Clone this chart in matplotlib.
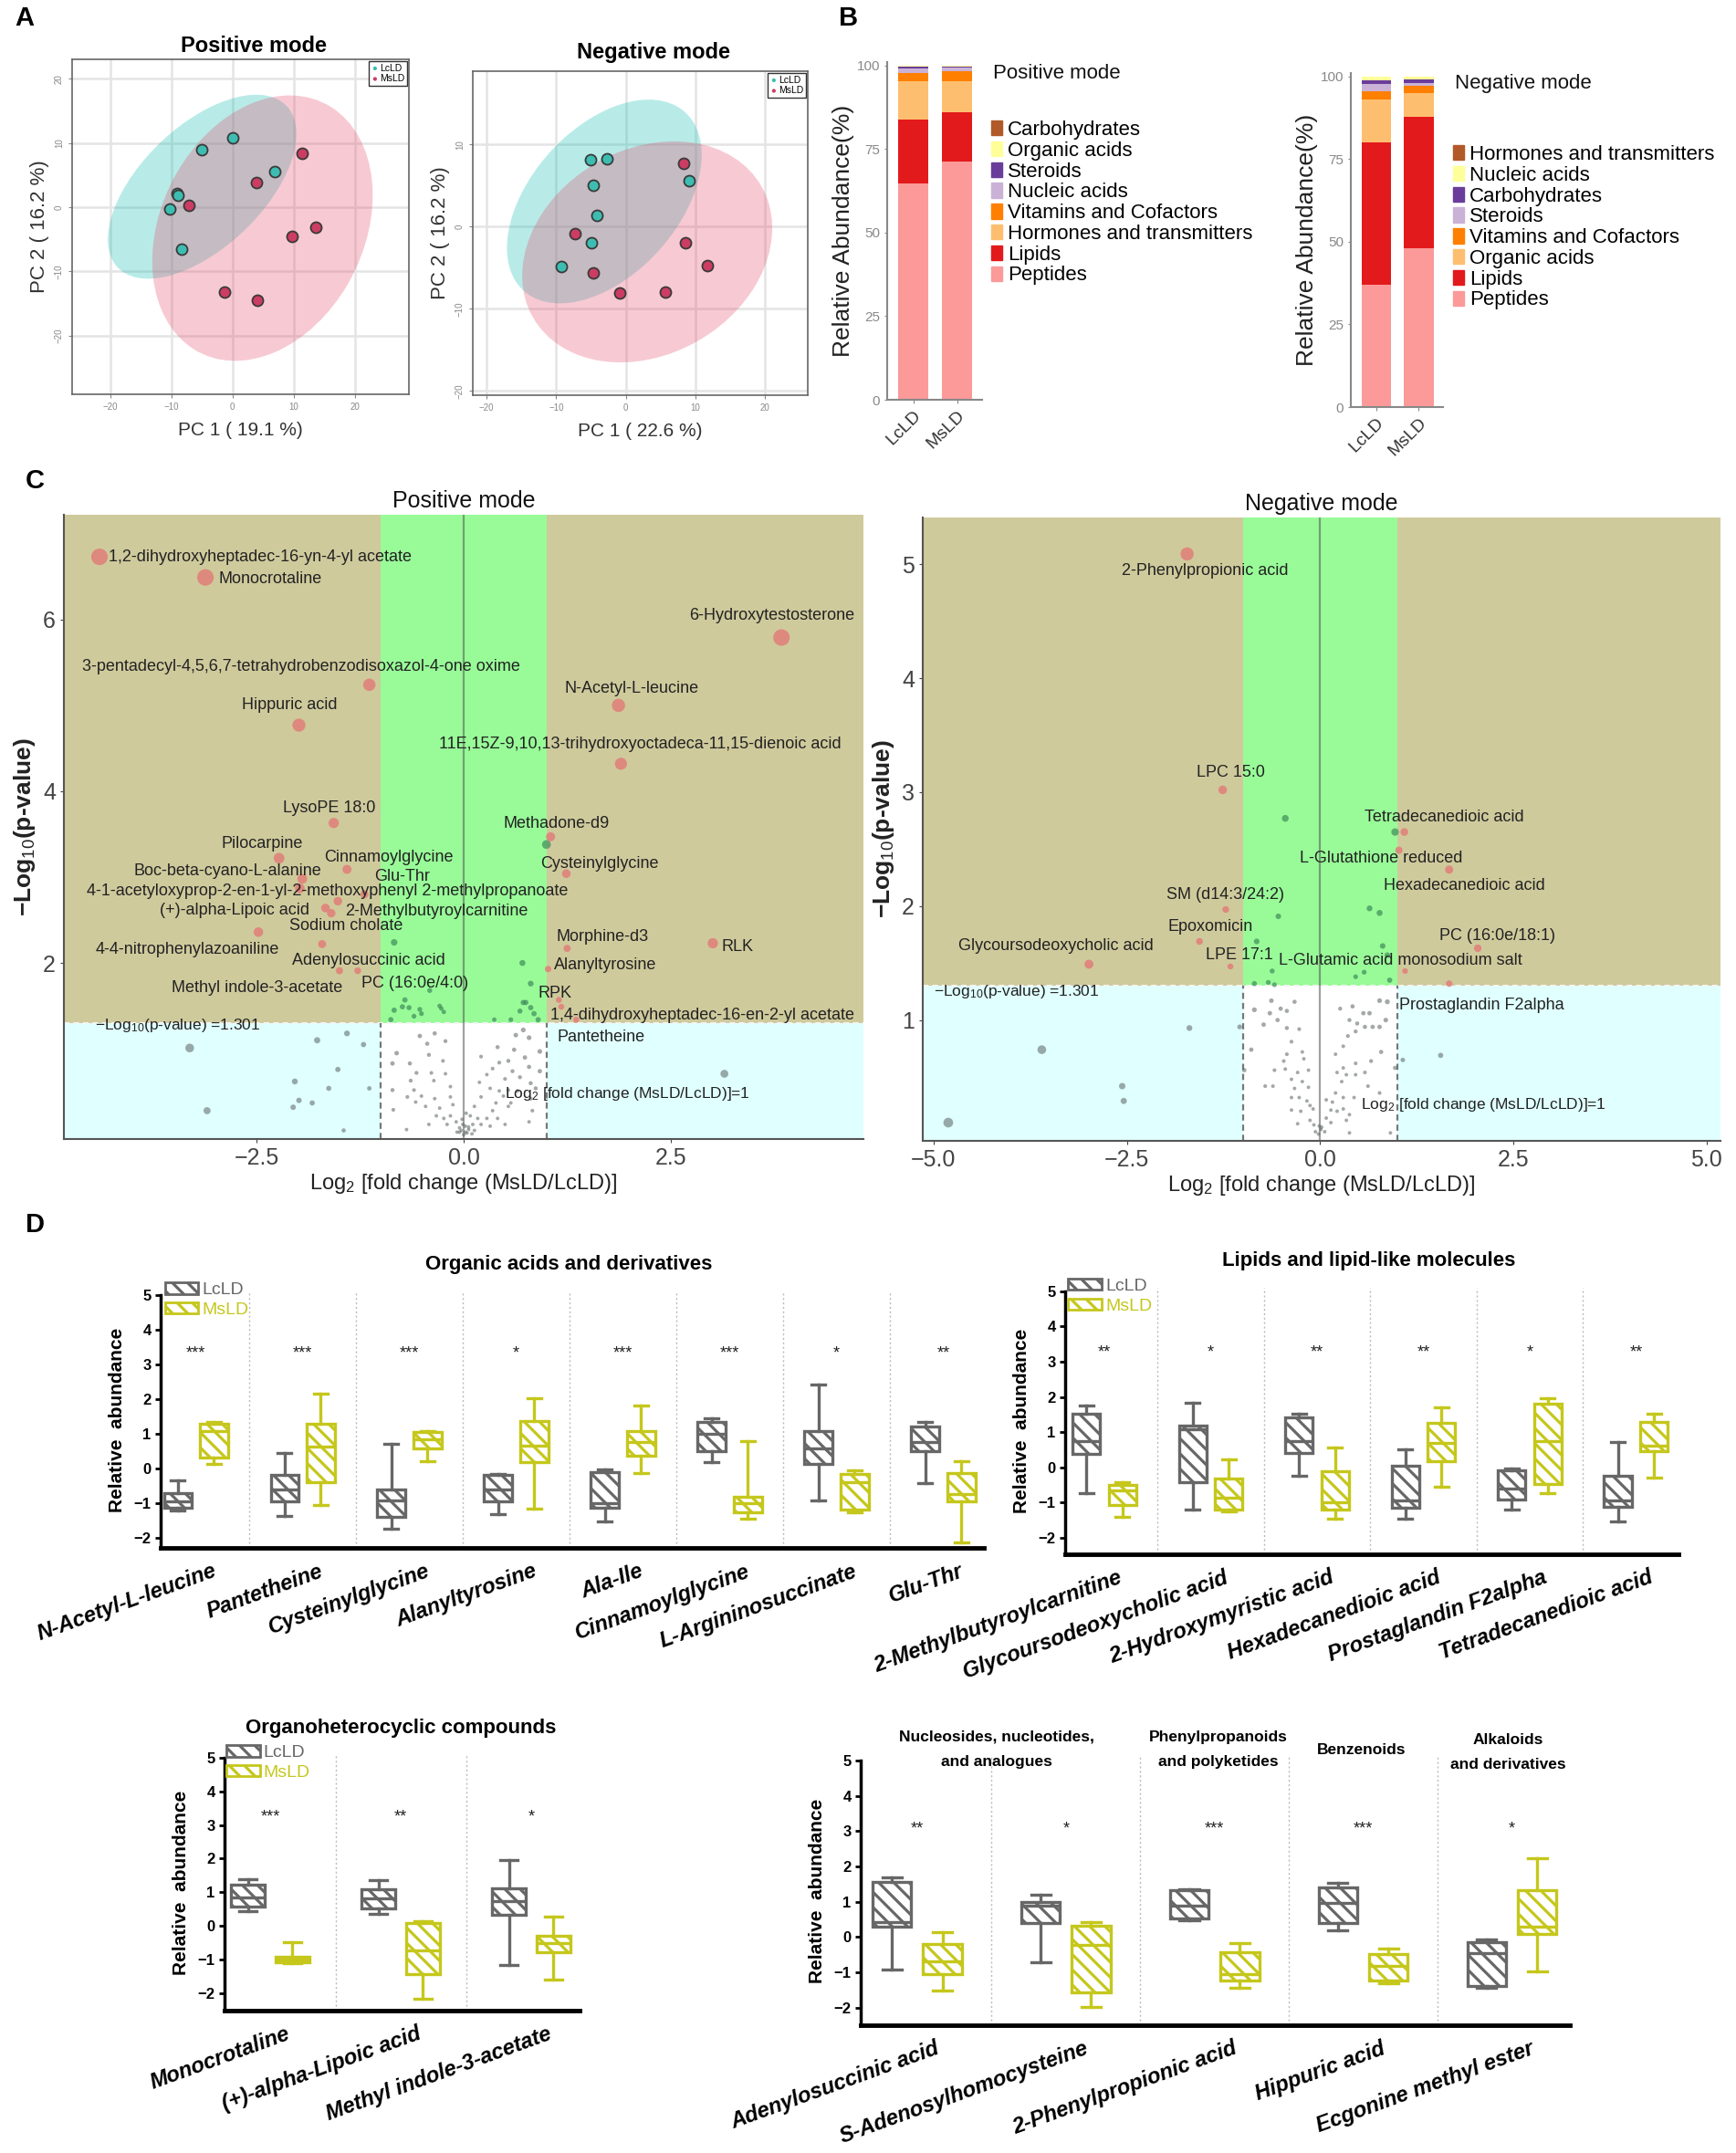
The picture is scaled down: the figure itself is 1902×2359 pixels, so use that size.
import numpy as np
import matplotlib
matplotlib.use("Agg")
import matplotlib.pyplot as plt
from matplotlib.patches import Ellipse, Patch, Rectangle

plt.rcParams["font.family"] = ["Liberation Sans", "DejaVu Sans"]
plt.rcParams["mathtext.fontset"] = "custom"
plt.rcParams["mathtext.rm"] = "Liberation Sans"
plt.rcParams["mathtext.it"] = "Liberation Sans:italic"
plt.rcParams["mathtext.bf"] = "Liberation Sans:bold"
plt.rcParams["hatch.linewidth"] = 2.3

# ---------------- A: PCA scores (PC1, PC2)
pca_pos_lc = [(0.0, 10.8), (-5.0, 8.9), (6.9, 5.5), (-9.1, 2.1), (-9.0, 1.8), (-10.3, -0.3), (-8.4, -6.5)]
pca_pos_ms = [(11.4, 8.4), (3.9, 3.9), (-7.1, 0.3), (13.7, -3.1), (9.7, -4.6), (-1.3, -13.2), (4.0, -14.5)]
pca_neg_lc = [(-5.1, 8.1), (-2.7, 8.2), (9.1, 5.6), (-4.6, 5.0), (-4.1, 1.4), (-4.9, -2.0), (-9.2, -4.9)]
pca_neg_ms = [(8.4, 7.7), (-7.3, -0.8), (8.6, -2.0), (11.8, -4.7), (-4.6, -5.6), (-0.9, -8.1), (5.7, -8.0)]

# ---------------- B: class composition (%), bottom -> top
pos_classes = ["Peptides", "Lipids", "Hormones and transmitters", "Vitamins and Cofactors",
               "Nucleic acids", "Steroids", "Organic acids", "Carbohydrates"]
pos_lcld = [64.6, 19.1, 11.6, 2.4, 1.3, 0.6, 0.2, 0.2]
pos_msld = [71.3, 14.6, 9.4, 3.1, 1.0, 0.3, 0.2, 0.1]
neg_classes = ["Peptides", "Lipids", "Organic acids", "Vitamins and Cofactors",
               "Steroids", "Carbohydrates", "Nucleic acids", "Hormones and transmitters"]
neg_lcld = [36.9, 43.2, 12.9, 2.4, 2.2, 1.1, 1.1, 0.2]
neg_msld = [48.1, 39.7, 7.2, 2.0, 0.9, 1.2, 0.8, 0.1]
stack_colors = ["#fb9a99", "#e31a1c", "#fdbf6f", "#ff7f00", "#cab2d6", "#6a3d9a", "#ffff99", "#b15928"]

# ---------------- C: volcano, labelled metabolites (log2 FC, -log10 p)
vp_names = ["1,2-dihydroxyheptadec-16-yn-4-yl acetate", "Monocrotaline", "6-Hydroxytestosterone",
            "3-pentadecyl-4,5,6,7-tetrahydrobenzodisoxazol-4-one oxime", "N-Acetyl-L-leucine",
            "Hippuric acid", "11E,15Z-9,10,13-trihydroxyoctadeca-11,15-dienoic acid", "LysoPE 18:0",
            "Methadone-d9", "Pilocarpine", "Cinnamoylglycine", "Boc-beta-cyano-L-alanine", "Glu-Thr",
            "4-1-acetyloxyprop-2-en-1-yl-2-methoxyphenyl 2-methylpropanoate", "(+)-alpha-Lipoic acid",
            "2-Methylbutyroylcarnitine", "Sodium cholate", "4-4-nitrophenylazoaniline",
            "Adenylosuccinic acid", "Methyl indole-3-acetate", "PC (16:0e/4:0)", "Cysteinylglycine",
            "Morphine-d3", "RLK", "Alanyltyrosine", "RPK", "1,4-dihydroxyheptadec-16-en-2-yl acetate",
            "Pantetheine"]
vp_fc = [-4.40, -3.12, 3.84, -1.14, 1.87, -1.99, 1.90, -1.57, 1.05, -2.23, -1.41, -1.95, -1.20,
         -1.52, -1.67, -1.60, -1.98, -2.48, -1.71, -1.50, -1.28, 1.24, 1.25, 3.01, 1.02, 1.15, 1.36, 1.18]
vp_p = [6.73, 6.49, 5.79, 5.24, 5.00, 4.77, 4.32, 3.63, 3.47, 3.22, 3.09, 2.98, 2.80,
        2.72, 2.64, 2.58, 2.87, 2.36, 2.22, 1.91, 1.91, 3.04, 2.17, 2.23, 1.93, 1.57, 1.34, 1.49]
# other (unlabelled) features, positive mode
vp_other_fc = [1.00, -0.84, 0.71, -0.41, 0.81, 0.75, -0.71, -0.66, -0.84, -0.53, -0.51, -0.29, -0.24,
               -0.88, -0.60, 0.72, 0.81, 0.85, 0.57, 0.90, 0.68, -0.74, -0.27, 0.37,
               -3.31, -1.77, -1.41, -1.21, -1.52, -2.04, -1.63, -1.14, -1.99, -1.83, -2.06, -3.10, 3.15, -1.45,
               -0.53, -0.44, -0.35, -0.22, -0.81, -0.65, -0.42, -0.25, -0.86, -0.57, -0.39, -0.22, -0.64,
               -0.36, -0.60, -0.16, -0.86, -0.68, -0.51, -0.35, -0.16, -0.85, -0.58, -0.29, -0.13, -0.33,
               -0.16, -0.42, -0.20, -0.09, -0.69, -0.05, -0.24, -0.46,
               0.41, 0.61, 0.72, 0.79, 0.63, 0.74, 0.92, 0.43, 0.54, 0.21, 0.35, 0.59, 0.68, 0.79, 0.92,
               0.28, 0.50, 0.81, 0.19, 0.32, 0.43, 0.54, 0.65, 0.87, 0.21, 0.39, 0.48, 0.57, 0.81, 0.13,
               0.35, 0.54, 0.83, 0.08, 0.17, 0.28, 0.41, 0.11, 0.21, 0.32, 0.06, 0.13, 0.02, -0.01, -0.05,
               0.02, 0.10, 0.50, 0.79, 0.00, -0.03, 0.04, -0.08, 0.06, -0.02, 0.03]
vp_other_p = [3.38, 2.24, 2.00, 1.68, 1.76, 1.54, 1.57, 1.48, 1.45, 1.46, 1.41, 1.50, 1.43,
              1.34, 1.38, 1.54, 1.48, 1.41, 1.34, 1.34, 1.44, 1.49, 1.47, 1.34,
              1.01, 1.10, 1.18, 1.05, 0.76, 0.62, 0.54, 0.54, 0.40, 0.37, 0.32, 0.28, 0.71, 0.05,
              1.15, 1.06, 1.18, 1.09, 0.95, 0.83, 0.93, 0.86, 0.83, 0.72, 0.72, 0.71, 0.63,
              0.63, 0.52, 0.56, 0.52, 0.44, 0.45, 0.42, 0.44, 0.29, 0.38, 0.31, 0.35, 0.22,
              0.22, 0.12, 0.12, 0.15, 0.06, 0.08, 0.19, 0.33,
              1.02, 0.99, 1.22, 1.13, 1.16, 0.90, 0.97, 0.84, 0.86, 0.91, 0.77, 0.74, 0.67, 0.79, 0.74,
              0.70, 0.65, 0.60, 0.61, 0.54, 0.51, 0.52, 0.51, 0.54, 0.44, 0.37, 0.45, 0.37, 0.42, 0.33,
              0.28, 0.33, 0.28, 0.22, 0.19, 0.19, 0.19, 0.12, 0.12, 0.10, 0.06, 0.05, 0.10, 0.12, 0.03,
              0.03, 0.01, 0.12, 0.15, 0.00, 0.05, 0.02, 0.03, 0.09, 0.18, 0.25]

vn_names = ["2-Phenylpropionic acid", "LPC 15:0", "Tetradecanedioic acid", "L-Glutathione reduced",
            "Hexadecanedioic acid", "SM (d14:3/24:2)", "Epoxomicin", "PC (16:0e/18:1)",
            "Glycoursodeoxycholic acid", "LPE 17:1", "L-Glutamic acid monosodium salt", "Prostaglandin F2alpha"]
vn_fc = [-1.72, -1.26, 1.09, 1.02, 1.67, -1.22, -1.56, 2.04, -2.99, -1.16, 1.10, 1.67]
vn_p = [5.09, 3.02, 2.65, 2.49, 2.32, 1.97, 1.69, 1.63, 1.49, 1.47, 1.43, 1.32]
vn_other_fc = [-0.45, 0.97, -0.54, 0.64, 0.77, -0.82, 0.81, 0.87, -0.62, 0.46, 0.57, -0.67, -0.59, 0.90, -0.85,
               -1.69, -3.60, -2.56, -2.54, -4.81, 1.56, 1.07,
               -0.63, -0.33, -0.85, -0.65, -0.51, -0.43, -0.55, -0.73, -0.43, -0.27, -1.04, -0.37, -0.89,
               -0.43, -0.23, -0.21, -0.47, -0.98, -0.59, -0.45, -0.29, -0.15, -0.37, -0.23, -0.71, -0.61,
               -0.33, -0.15, -0.37, -0.27, -0.17, -0.13, -0.37, -0.25, -0.09, -0.29, -0.13, -0.08, -0.06,
               -0.02, 0.26, 0.42, 0.56, 0.64, 0.38, 0.48, 0.58, 0.68, 0.77, 0.46, 0.36, 0.30, 0.20, 0.46,
               0.66, 0.58, 0.30, 0.22, 0.28, 0.34, 0.46, 0.79, 0.97, 0.62, 0.77, 0.20, 0.08, 0.16, 0.30,
               0.44, 0.14, 0.22, 0.30, 0.38, 0.08, 0.14, 0.34, 0.02, 0.06, 0.38, 0.91, 0.77, 0.87, 0.85,
               0.01, -0.01]
vn_other_p = [2.77, 2.65, 1.91, 1.98, 1.94, 1.69, 1.65, 1.57, 1.43, 1.38, 1.42, 1.33, 1.31, 1.35, 1.32,
              0.93, 0.74, 0.42, 0.29, 0.10, 0.69, 0.65,
              1.17, 1.16, 1.09, 1.06, 1.10, 1.08, 1.00, 0.96, 0.93, 0.92, 0.94, 0.81, 0.74,
              0.70, 0.72, 0.66, 0.64, 0.56, 0.56, 0.57, 0.54, 0.56, 0.48, 0.46, 0.42, 0.42,
              0.40, 0.41, 0.32, 0.32, 0.29, 0.25, 0.21, 0.20, 0.22, 0.09, 0.12, 0.08, 0.02,
              0.00, 1.10, 1.12, 1.06, 1.06, 1.00, 0.97, 0.94, 0.94, 0.94, 0.90, 0.86, 0.77, 0.70, 0.62,
              0.64, 0.54, 0.58, 0.54, 0.46, 0.52, 0.52, 0.72, 0.58, 0.42, 0.36, 0.36, 0.30, 0.28, 0.32,
              0.32, 0.21, 0.20, 0.22, 0.17, 0.14, 0.10, 0.12, 0.06, 0.02, 0.01, 0.01, 1.17, 1.16, 1.00,
              0.04, 0.07]

# ---------------- D: box statistics (whislo, q1, median, q3, whishi)
oa_names = ["N-Acetyl-L-leucine", "Pantetheine", "Cysteinylglycine", "Alanyltyrosine", "Ala-Ile",
            "Cinnamoylglycine", "L-Argininosuccinate", "Glu-Thr"]
oa_lc = [(-1.23, -1.15, -0.97, -0.73, -0.35), (-1.39, -0.97, -0.62, -0.20, 0.44), (-1.76, -1.41, -0.93, -0.62, 0.70),
         (-1.32, -0.97, -0.62, -0.20, -0.18), (-1.54, -1.15, -1.01, -0.11, -0.03), (0.18, 0.48, 1.00, 1.34, 1.43),
         (-0.94, 0.11, 0.57, 1.06, 2.41), (-0.44, 0.50, 0.75, 1.21, 1.34)]
oa_ms = [(0.11, 0.31, 1.06, 1.28, 1.34), (-1.07, -0.40, 0.62, 1.28, 2.14), (0.20, 0.57, 0.84, 1.04, 1.08),
         (-1.17, 0.18, 0.66, 1.37, 2.01), (-0.15, 0.35, 0.75, 1.08, 1.82), (-1.45, -1.26, -1.01, -0.82, 0.79),
         (-1.26, -1.19, -0.40, -0.18, -0.07), (-2.14, -0.97, -0.75, -0.15, 0.20)]
oa_sig = ["***", "***", "***", "*", "***", "***", "*", "**"]

lip_names = ["2-Methylbutyroylcarnitine", "Glycoursodeoxycholic acid", "2-Hydroxymyristic acid",
             "Hexadecanedioic acid", "Prostaglandin F2alpha", "Tetradecanedioic acid"]
lip_lc = [(-0.74, 0.39, 0.74, 1.52, 1.75), (-1.19, -0.42, 1.08, 1.19, 1.84), (-0.24, 0.42, 0.74, 1.43, 1.52),
          (-1.45, -1.14, -0.95, 0.04, 0.50), (-1.19, -0.91, -0.61, -0.09, -0.04), (-1.54, -1.11, -0.95, -0.24, 0.71)]
lip_ms = [(-1.41, -1.08, -0.65, -0.50, -0.43), (-1.24, -1.21, -0.87, -0.33, 0.23), (-1.45, -1.21, -1.00, -0.11, 0.56),
          (-0.56, 0.17, 0.69, 1.27, 1.71), (-0.74, -0.48, 0.74, 1.80, 1.97), (-0.30, 0.45, 0.61, 1.30, 1.52)]
lip_sig = ["**", "*", "**", "**", "*", "**"]

het_names = ["Monocrotaline", "(+)-alpha-Lipoic acid", "Methyl indole-3-acetate"]
het_lc = [(0.45, 0.58, 0.85, 1.22, 1.40), (0.36, 0.51, 0.83, 1.10, 1.36), (-1.16, 0.33, 0.74, 1.12, 1.96)]
het_ms = [(-1.11, -1.07, -1.00, -0.90, -0.48), (-2.17, -1.43, -0.72, 0.08, 0.15), (-1.59, -0.78, -0.50, -0.30, 0.29)]
het_sig = ["***", "**", "*"]

oth_names = ["Adenylosuccinic acid", "S-Adenosylhomocysteine", "2-Phenylpropionic acid", "Hippuric acid",
             "Ecgonine methyl ester"]
oth_lc = [(-0.92, 0.28, 0.41, 1.56, 1.69), (-0.71, 0.39, 0.89, 0.99, 1.19), (0.48, 0.52, 0.89, 1.32, 1.34),
          (0.18, 0.39, 0.97, 1.40, 1.52), (-1.44, -1.40, -0.45, -0.15, -0.06)]
oth_ms = [(-1.51, -1.05, -0.68, -0.21, 0.13), (-1.98, -1.57, -0.22, 0.33, 0.43), (-1.44, -1.24, -1.05, -0.43, -0.17),
          (-1.31, -1.24, -0.81, -0.49, -0.34), (-0.98, 0.09, 0.28, 1.32, 2.22)]
oth_sig = ["**", "*", "***", "***", "*"]
oth_groups = ["Nucleosides, nucleotides,\nand analogues", "Phenylpropanoids\nand polyketides",
              "Benzenoids", "Alkaloids\nand derivatives"]

W, H = 1902, 2359
fig = plt.figure(figsize=(W / 100, H / 100), dpi=100)


def rect(l, t, r, b):
    return [l / W, 1 - b / H, (r - l) / W, (b - t) / H]


def ftext(x, y, s, **kw):
    return fig.text(x / W, 1 - y / H, s, **kw)


# ================= A
def pca_panel(box, title, xlabel, lc, ms, xlim, ylim, yticks, pad):
    ax = fig.add_axes(rect(*box))
    r = np.sqrt(5.991)
    for pts, fill in [(lc, "#14beb4"), (ms, "#e6506e")]:
        a = np.asarray(pts)
        vals, vecs = np.linalg.eigh(np.cov(a.T))
        ang = np.degrees(np.arctan2(vecs[1, 1], vecs[0, 1]))
        ax.add_patch(Ellipse(a.mean(0), 2 * r * np.sqrt(vals[1]), 2 * r * np.sqrt(vals[0]),
                             angle=ang, fc=fill, ec="none", alpha=0.3, zorder=1))
    for pts, c, lab in [(lc, "#3dbdb1", "LcLD"), (ms, "#cc3d63", "MsLD")]:
        a = np.asarray(pts)
        ax.scatter(a[:, 0], a[:, 1], s=75, c=c, edgecolors="#3a3a3a", linewidths=1.3, zorder=3, label=lab)
    ax.set_xlim(xlim)
    ax.set_ylim(ylim)
    ax.set_xticks([-20, -10, 0, 10, 20])
    ax.set_yticks(yticks)
    ax.grid(True, color="#e4e4e4", lw=1.8)
    ax.set_axisbelow(True)
    ax.tick_params(labelsize=7, colors="#888", length=3)
    for t in ax.get_yticklabels():
        t.set_rotation(90)
        t.set_va("center")
    for s in ax.spines.values():
        s.set_color("#666")
        s.set_linewidth(1.2)
    ax.set_title(title, fontsize=17, fontweight="bold", pad=pad, x=0.54)
    ax.set_xlabel(xlabel, fontsize=15, color="#333", labelpad=8)
    ax.set_ylabel("PC 2 ( 16.2 %)", fontsize=16, color="#333", labelpad=4)
    leg = ax.legend(loc="upper right", fontsize=7.5, markerscale=0.35, handletextpad=0.1, borderpad=0.3,
                    labelspacing=0.15, fancybox=False, framealpha=1, edgecolor="#333", handlelength=0.8,
                    borderaxespad=0.15)
    for h in leg.legend_handles:
        h.set_edgecolor("none")


pca_panel((79, 65, 448, 432), "Positive mode", "PC 1 ( 19.1 %)", pca_pos_lc, pca_pos_ms,
          (-26.3, 28.9), (-29.1, 23.0), [-20, -10, 0, 10, 20], 6)
pca_panel((518, 78, 885, 433), "Negative mode", "PC 1 ( 22.6 %)", pca_neg_lc, pca_neg_ms,
          (-22.0, 26.2), (-20.5, 18.9), [-20, -10, 0, 10], 10)


# ================= B
def bar_panel(box, classes, lc, ms, title_xy, title, leg_xy):
    ax = fig.add_axes(rect(*box))
    bottom = np.zeros(2)
    for i in range(len(classes)):
        v = np.array([lc[i], ms[i]])
        ax.bar([0, 1], v, bottom=bottom, width=0.69, color=stack_colors[i], lw=0)
        bottom += v
    ax.set_xlim(-0.6, 1.57)
    ax.set_ylim(0, 101)
    ax.set_yticks([0, 25, 50, 75, 100])
    ax.set_xticks([0, 1])
    ax.set_xticklabels(["LcLD", "MsLD"], rotation=45, ha="right", va="top", rotation_mode="anchor",
                       fontsize=14, color="#333")
    ax.tick_params(axis="y", labelsize=11, colors="#888", length=2)
    ax.tick_params(axis="x", length=3, colors="#888")
    for t in ax.get_xticklabels():
        t.set_color("#333")
    for s in ["top", "right"]:
        ax.spines[s].set_visible(False)
    for s in ["left", "bottom"]:
        ax.spines[s].set_color("#888")
        ax.spines[s].set_linewidth(1.5)
    ax.set_ylabel("Relative Abundance(%)", fontsize=19, color="#222", labelpad=2)
    ftext(title_xy[0], title_xy[1], title, fontsize=16, va="center", ha="left", color="#111")
    handles = [Patch(color=stack_colors[i]) for i in reversed(range(len(classes)))]
    fig.legend(handles, classes[::-1], loc="upper left", bbox_to_anchor=(leg_xy[0] / W, 1 - leg_xy[1] / H),
               frameon=False, fontsize=16, handlelength=0.55, handleheight=0.75, handletextpad=0.25,
               labelspacing=0.08, borderpad=0, borderaxespad=0)


bar_panel((972, 68, 1076, 438), pos_classes, pos_lcld, pos_msld, (1088, 80), "Positive mode", (1086, 132))
bar_panel((1480, 80, 1581, 446), neg_classes, neg_lcld, neg_msld, (1594, 91), "Negative mode", (1592, 159))


# ================= C
def volcano(box, title, xlim, ylim, xticks, yticks, names, fc, p, other_fc, other_p, lab_xy, thr_xy, fc_xy):
    ax = fig.add_axes(rect(*box))
    thr = 1.301
    x0, x1 = xlim
    y0, y1 = ylim
    ax.add_patch(Rectangle((x0, thr), x1 - x0, y1 - thr, fc="#cfca9c", ec="none", zorder=0))
    ax.add_patch(Rectangle((-1, thr), 2, y1 - thr, fc="#98fb98", ec="none", zorder=0))
    ax.add_patch(Rectangle((x0, y0), x1 - x0, thr - y0, fc="#e0ffff", ec="none", zorder=0))
    ax.add_patch(Rectangle((-1, y0), 2, thr - y0, fc="white", ec="none", zorder=0))
    ax.plot([x0, x1], [thr, thr], color="#f4f4f4", ls=(0, (3, 2)), lw=1.5, zorder=1)
    for xv in (-1, 1):
        ax.plot([xv, xv], [y0, thr], color="#777", ls=(0, (3, 2)), lw=1.6, zorder=1)
    ax.axvline(0, color="#555", lw=1.6, alpha=0.55, zorder=1)
    afc = np.r_[fc, other_fc]
    ap = np.r_[p, other_p]
    size = np.clip(6 + 2.2 * (np.abs(afc) + ap) ** 2, 8, 170)
    sig = ap > thr
    red = sig & (np.abs(afc) > 1)
    grn = sig & ~red
    gry = ~sig
    ax.scatter(afc[gry], ap[gry], s=size[gry], c="#5a6262", alpha=0.55, lw=0, zorder=2)
    ax.scatter(afc[grn], ap[grn], s=size[grn], c="#3f8c5a", alpha=0.7, lw=0, zorder=2)
    ax.scatter(afc[red], ap[red], s=size[red], c="#e0827a", alpha=0.9, lw=0, zorder=2)
    for n, (tx, ty, ha) in zip(names, lab_xy):
        ax.text(tx, ty, n, fontsize=13, ha=ha, va="center", color="#222", zorder=4)
    ax.text(thr_xy[0], thr_xy[1], r"$-$Log$_{10}$(p-value) =1.301", fontsize=12.5, ha="left", va="center",
            color="#222", zorder=4)
    ax.text(fc_xy[0], fc_xy[1], r"Log$_2$ [fold change (MsLD/LcLD)]=1", fontsize=12.5, ha="left", va="center",
            color="#222", zorder=4)
    ax.set_xlim(xlim)
    ax.set_ylim(ylim)
    ax.set_xticks(xticks)
    ax.set_xticklabels([f"{v:.1f}".replace("-", "\u2212") for v in xticks])
    ax.set_yticks(yticks)
    ax.tick_params(labelsize=18, colors="#444", length=3)
    for s in ["top", "right"]:
        ax.spines[s].set_visible(False)
    for s in ["left", "bottom"]:
        ax.spines[s].set_color("#555")
        ax.spines[s].set_linewidth(1.5)
    ax.set_title(title, fontsize=18, pad=6, color="#111")
    ax.set_xlabel(r"Log$_2$ [fold change (MsLD/LcLD)]", fontsize=17, color="#222", labelpad=2)
    ax.set_ylabel(r"$\mathbf{-}$Log$_{10}$(p-value)", fontsize=19, fontweight="bold", color="#222", labelpad=4)


pos_lab_xy = [(-4.29, 6.73, "left"), (-2.96, 6.47, "left"), (3.72, 6.05, "center"), (-1.96, 5.45, "center"),
              (2.03, 5.20, "center"), (-2.10, 5.00, "center"), (2.13, 4.55, "center"), (-1.62, 3.80, "center"),
              (1.12, 3.62, "center"), (-2.43, 3.39, "center"), (-0.91, 3.23, "center"), (-2.85, 3.07, "center"),
              (-0.74, 3.01, "center"), (-1.65, 2.84, "center"), (-2.77, 2.61, "center"), (-0.33, 2.60, "center"),
              (-1.42, 2.43, "center"), (-3.34, 2.16, "center"), (-1.15, 2.03, "center"), (-2.50, 1.71, "center"),
              (-0.59, 1.76, "center"), (1.64, 3.15, "center"), (1.68, 2.30, "center"), (3.11, 2.19, "left"),
              (1.71, 1.97, "center"), (1.10, 1.65, "center"), (2.88, 1.39, "center"), (1.66, 1.14, "center")]
volcano((70, 564, 946, 1248), "Positive mode", (-4.83, 4.83), (-0.05, 7.22), [-2.5, 0.0, 2.5], [2, 4, 6],
        vp_names, vp_fc, vp_p, vp_other_fc, vp_other_p, pos_lab_xy, (-4.45, 1.27), (0.5, 0.48))

neg_lab_xy = [(-1.49, 4.94, "center"), (-1.15, 3.17, "center"), (1.61, 2.78, "center"), (0.79, 2.42, "center"),
              (1.87, 2.18, "center"), (-1.22, 2.10, "center"), (-1.42, 1.82, "center"), (2.29, 1.74, "center"),
              (-3.42, 1.65, "center"), (-1.05, 1.57, "center"), (1.04, 1.52, "center"), (2.09, 1.13, "center")]
volcano((1011, 567, 1885, 1250), "Negative mode", (-5.14, 5.18), (-0.06, 5.41), [-5.0, -2.5, 0.0, 2.5, 5.0],
        [1, 2, 3, 4, 5], vn_names, vn_fc, vn_p, vn_other_fc, vn_other_p, neg_lab_xy, (-5.0, 1.25), (0.53, 0.26))

# ================= D
LC_COL = "#676767"
MS_COL = "#c5c71c"


def box_panel(box, names, lc, ms, sig, xlim, ylim, sig_y, lab_shift):
    ax = fig.add_axes(rect(*box))
    n = len(names)
    x = np.arange(n)
    for vals, off, col in [(lc, -0.17, LC_COL), (ms, 0.17, MS_COL)]:
        stats = [dict(whislo=v[0], q1=v[1], med=v[2], q3=v[3], whishi=v[4]) for v in vals]
        bp = ax.bxp(stats, positions=x + off, widths=0.26, patch_artist=True, showfliers=False,
                    manage_ticks=False,
                    boxprops=dict(facecolor="white", edgecolor=col, linewidth=2.4),
                    medianprops=dict(color=col, linewidth=2.4),
                    whiskerprops=dict(color=col, linewidth=2.4),
                    capprops=dict(color=col, linewidth=2.4))
        for b in bp["boxes"]:
            b.set_hatch("\\\\")
            b.set_edgecolor(col)
            if hasattr(b, "set_hatchcolor"):
                b.set_hatchcolor(col)
    for i in range(n - 1):
        ax.axvline(i + 0.5, color="#bbbbbb", ls=(0, (1.5, 2)), lw=1)
    for i, s in enumerate(sig):
        ax.text(i, sig_y, s, ha="center", va="center", fontsize=13, color="#222")
    ax.set_xlim(xlim)
    ax.set_ylim(ylim)
    ax.set_yticks(range(-2, 6))
    ax.set_xticks(x + lab_shift)
    ax.set_xticklabels(names, rotation=20, ha="right", va="top", rotation_mode="anchor",
                       fontsize=17, fontweight="bold", fontstyle="italic")
    ax.tick_params(axis="x", length=0, pad=10)
    ax.tick_params(axis="y", labelsize=12, width=2, length=4)
    for t in ax.get_yticklabels():
        t.set_fontweight("bold")
    for s in ["top", "right"]:
        ax.spines[s].set_visible(False)
    ax.spines["left"].set_linewidth(2.5)
    ax.spines["bottom"].set_linewidth(3.5)
    ax.spines["left"].set_bounds(ylim[0], 5)
    ax.set_ylabel("Relative  abundance", fontsize=15, fontweight="bold", labelpad=6)
    return ax


def add_legend(ax):
    h = [Patch(facecolor="white", edgecolor=LC_COL, hatch="\\\\", lw=2),
         Patch(facecolor="white", edgecolor=MS_COL, hatch="\\\\", lw=2)]
    leg = ax.legend(h, ["LcLD", "MsLD"], loc="upper left", bbox_to_anchor=(0.005, 1.035), frameon=False,
                    fontsize=14, handlelength=1.9, handleheight=0.6, handletextpad=0.2, labelspacing=0.25,
                    borderpad=0, borderaxespad=0)
    for t, c in zip(leg.get_texts(), [LC_COL, MS_COL]):
        t.set_color(c)
    for p, c in zip(leg.get_patches(), [LC_COL, MS_COL]):
        if hasattr(p, "set_hatchcolor"):
            p.set_hatchcolor(c)


ax1 = box_panel((176, 1415, 1078, 1696), oa_names, oa_lc, oa_ms, oa_sig, (-0.33, 7.38), (-2.3, 5.1), 3.3, 0.15)
add_legend(ax1)
ftext(623, 1385, "Organic acids and derivatives", fontsize=16, fontweight="bold", ha="center", va="center")

ax2 = box_panel((1167, 1411, 1839, 1703), lip_names, lip_lc, lip_ms, lip_sig, (-0.37, 5.4), (-2.47, 5.1), 3.25, 0.12)
add_legend(ax2)
ftext(1500, 1381, "Lipids and lipid-like molecules", fontsize=16, fontweight="bold", ha="center", va="center")

ax3 = box_panel((246, 1922, 635, 2203), het_names, het_lc, het_ms, het_sig, (-0.35, 2.37), (-2.51, 5.1), 3.22, 0.12)
add_legend(ax3)
ftext(439, 1893, "Organoheterocyclic compounds", fontsize=16, fontweight="bold", ha="center", va="center")

ax4 = box_panel((943, 1925, 1720, 2219), oth_names, oth_lc, oth_ms, oth_sig, (-0.38, 4.39), (-2.5, 5.1), 3.07, 0.12)
for (gx, gy), g in zip([(1092, 1917), (1335, 1917), (1492, 1917), (1652, 1920)], oth_groups):
    ftext(gx, gy, g, fontsize=12.5, fontweight="bold", ha="center", va="center", linespacing=2.0)

# panel letters
for (lx, ly), L in zip([(27, 20), (930, 20), (38, 527), (38, 1342)], "ABCD"):
    ftext(lx, ly, L, fontsize=21, fontweight="bold", ha="center", va="center")

fig.savefig("out.png", dpi=100)
